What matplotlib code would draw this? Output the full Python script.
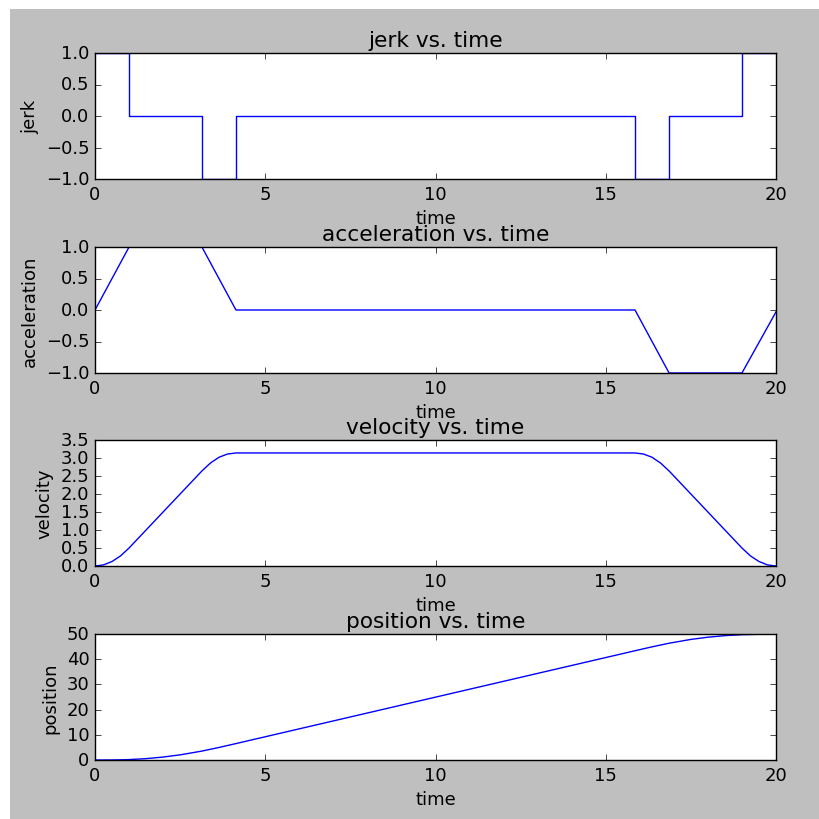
import matplotlib
matplotlib.use('Agg')
import matplotlib.pyplot as plt
from matplotlib.patches import Rectangle

plt.style.use('classic')
plt.rcParams['font.size'] = 13

# jerk profile (step changes)
jerk_t = [0, 1.0, 3.14, 4.14, 15.86, 16.86, 19.0, 20]
jerk_v = [1, 0, -1, 0, -1, 0, 1, 1]

# acceleration breakpoints
acc_t = [0, 1.0, 3.14, 4.14, 15.86, 16.86, 19.0, 20]
acc_v = [0, 1, 1, 0, 0, -1, -1, -0.03]

# velocity
vel_t = [0, 0.25, 0.5, 0.75, 1.0, 3.14, 3.39, 3.64, 3.89, 4.14,
         15.86, 16.11, 16.36, 16.61, 16.86, 19.0, 19.25, 19.5, 19.75, 20]
vel_v = [0, 0.03, 0.125, 0.28, 0.5, 2.64, 2.86, 3.02, 3.11, 3.14,
         3.14, 3.11, 3.02, 2.86, 2.64, 0.5, 0.28, 0.125, 0.03, 0.0]

# position
pos_t = [0, 0.25, 0.5, 0.75, 1.0, 1.5, 2.0, 2.5, 3.14, 3.64, 4.14,
         15.86, 16.36, 16.86, 17.5, 18.0, 18.5, 19.0, 19.5, 20]
pos_v = [0, 0.003, 0.02, 0.07, 0.167, 0.54, 1.17, 2.04, 3.54, 4.97, 6.52,
         43.36, 44.91, 46.34, 47.85, 48.73, 49.35, 49.73, 49.88, 49.9]

fig = plt.figure(figsize=(8.19, 8.2), dpi=100, facecolor='white')
fig.patches.append(Rectangle((10 / 819, 0), 809 / 819, 810 / 820,
                             transform=fig.transFigure, facecolor='#bfbfbf',
                             edgecolor='none', zorder=-10))

left, width = 95 / 819, 681 / 819
rows = [(180, 126), (374, 126), (567, 126), (761, 126)]
axes = [fig.add_axes([left, 1 - b / 820, width, h / 820]) for b, h in rows]

ax = axes[0]
ax.step(jerk_t, jerk_v, where='post', color='b', zorder=1)
ax.set_ylim(-1, 1)
ax.set_title('jerk vs. time')
ax.set_ylabel('jerk')

ax = axes[1]
ax.plot(acc_t, acc_v, 'b', zorder=1)
ax.set_ylim(-1, 1)
ax.set_title('acceleration vs. time')
ax.set_ylabel('acceleration')

ax = axes[2]
ax.plot(vel_t, vel_v, 'b', zorder=1)
ax.set_ylim(0, 3.5)
ax.set_title('velocity vs. time')
ax.set_ylabel('velocity')

ax = axes[3]
ax.plot(pos_t, pos_v, 'b', zorder=1)
ax.set_ylim(0, 50)
ax.set_title('position vs. time')
ax.set_ylabel('position')

for ax in axes:
    ax.set_xlim(0, 20)
    ax.set_xlabel('time')

fig.savefig('out.png', dpi=100, facecolor=fig.get_facecolor())
